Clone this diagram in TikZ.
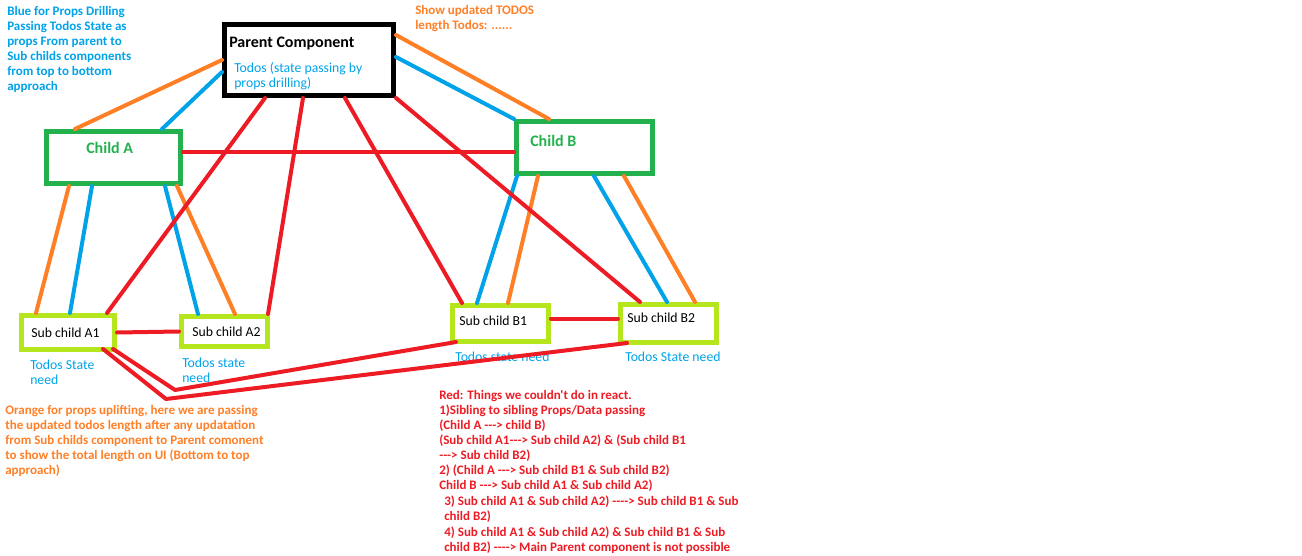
\documentclass[tikz,border=0pt]{standalone}
\usepackage{fontspec}
\setmainfont{Carlito}[Ligatures=TeXOff]
\usetikzlibrary{calc}

\newdimen\px \px=0.75pt
\newcommand{\notesize}{\fontsize{9.75pt}{11.25pt}\selectfont}
\newcommand{\regsize}{\fontsize{10.3pt}{11.25pt}\selectfont}
\newcommand{\headsize}{\fontsize{12pt}{14pt}\selectfont}

\definecolor{pblue}{HTML}{00A2E8}
\definecolor{porange}{HTML}{FF7F27}
\definecolor{pred}{HTML}{ED1C24}
\definecolor{pgreen}{HTML}{22B14C}
\definecolor{plime}{HTML}{B5E61D}

\begin{document}
\begin{tikzpicture}[
        x=\px, y=-\px, line cap=round,
        bwire/.style={draw=pblue, line width=4\px},
        owire/.style={draw=porange, line width=4\px},
        rwire/.style={draw=pred, line width=4\px, line join=round}
    ]

    \tikzstyle{parentbox} = [rectangle,draw=black,line width=5\px,inner sep=0pt,minimum width=169\px,minimum height=71\px]
    \tikzstyle{childbox} = [rectangle,draw=pgreen,line width=5\px,inner sep=0pt]
    \tikzstyle{subbox} = [rectangle,draw=plime,line width=5\px,inner sep=0pt]
    \tikzstyle{note} = [anchor=north west,align=left,inner sep=0pt,font=\regsize]

    \useasboundingbox (0,0) rectangle (1302,556);

    % boxes
    \node[parentbox] (parent) at (309,60) {};
    \node[childbox,minimum width=134\px,minimum height=52\px] (childA) at (113.5,157.5) {};
    \node[childbox,minimum width=136\px,minimum height=52\px] (childB) at (584.5,147.5) {};
    \node[subbox,minimum width=93\px,minimum height=34\px] (subA1) at (68,332.5) {};
    \node[subbox,minimum width=86\px,minimum height=30\px] (subA2) at (224.5,331.5) {};
    \node[subbox,minimum width=96\px,minimum height=36\px] (subB1) at (500.5,323.5) {};
    \node[subbox,minimum width=96\px,minimum height=38\px] (subB2) at (668.5,323.5) {};

    % box titles
    \node[note,font=\headsize\bfseries] (parenttitle) at (229,36.5) {Parent Component};
    \node[note,text=pblue] (parentstate) at (234,62) {Todos (state passing by\\props drilling)};
    \node[note,font=\headsize\bfseries,text=pgreen] (childAtitle) at (86,142) {Child A};
    \node[note,font=\headsize\bfseries,text=pgreen] (childBtitle) at (530,135) {Child B};
    \node[note] (subA1title) at (31,328) {Sub child A1};
    \node[note] (subA2title) at (192,327) {Sub child A2};
    \node[note] (subB1title) at (459,316) {Sub child B1};
    \node[note] (subB2title) at (627,313) {Sub child B2};

    % state labels
    \node[note,text=pblue] (needA1) at (30,360) {Todos State\\need};
    \node[note,text=pblue] (needA2) at (182,358) {Todos state\\need};
    \node[note,text=pblue] (needB1) at (455,352) {Todos state need};
    \node[note,text=pblue] (needB2) at (625,352) {Todos State need};

    % notes
    \node[note,font=\notesize\bfseries,text=pblue] (bluenote) at (7,6)
        {Blue for Props Drilling\\Passing Todos State as\\props From parent to\\Sub childs components\\from top to bottom\\approach};
    \node[note,font=\notesize\bfseries,text=porange] (countnote) at (415,5)
        {Show updated TODOS\\length Todos: ......};
    \node[note,font=\notesize\bfseries,text=porange] (orangenote) at (5,405)
        {Orange for props uplifting, here we are passing\\the updated todos length after any updatation\\from Sub childs component to Parent comonent\\to show the total length on UI (Bottom to top\\approach)};
    \node[note,font=\notesize\bfseries,text=pred] (rednote) at (439,390)
        {Red: Things we couldn't do in react.\\1)Sibling to sibling Props/Data passing\\(Child A ---> child B)\\(Sub child A1---> Sub child A2) \& (Sub child B1\\---> Sub child B2)\\2) (Child A ---> Sub child B1 \& Sub child B2)\\Child B ---> Sub child A1 \& Sub child A2)};
    \node[note,font=\notesize\bfseries,text=pred] (rednotemore) at (444,496)
        {3) Sub child A1 \& Sub child A2) ----> Sub child B1 \& Sub\\child B2)\\[1\px]4) Sub child A1 \& Sub child A2) \& Sub child B1 \& Sub\\child B2) ----> Main Parent component is not possible};

    % props drilling (blue) and uplifting (orange)
    \draw[owire] (parent.west) -- ([xshift=31\px]childA.north west);
    \draw[bwire] ([yshift=-12\px]parent.west) -- ([xshift=118\px]childA.north west);
    \draw[owire] ([yshift=25\px]parent.east) -- ([xshift=35\px]childB.north west);
    \draw[bwire] ([yshift=3\px]parent.east) -- (childB.north west);

    \draw[owire] ([xshift=25\px]childA.south west) -- ([xshift=17\px]subA1.north west);
    \draw[bwire] ([xshift=48\px]childA.south west) -- ([xshift=51\px]subA1.north west);
    \draw[bwire] ([xshift=-18\px]childA.south east) -- ([xshift=19\px]subA2.north west);
    \draw[owire] ([xshift=-6\px]childA.south east) -- ([xshift=56\px]subA2.north west);

    \draw[bwire] ([xshift=3\px]childB.south west) -- ([xshift=27\px]subB1.north west);
    \draw[owire] ([xshift=24\px]childB.south west) -- ([xshift=58\px]subB1.north west);
    \draw[bwire] ([xshift=80\px]childB.south west) -- ([xshift=49\px]subB2.north west);
    \draw[owire] ([xshift=110\px]childB.south west) -- ([xshift=77\px]subB2.north west);

    % not possible (red)
    \draw[rwire] ([xshift=43\px]parent.south west) -- ([xshift=-10\px]subA1.north east);
    \draw[rwire] ([xshift=81\px]parent.south west) -- ([xshift=-2\px]subA2.north east);
    \draw[rwire] ([xshift=-51\px]parent.south east) -- ([xshift=12\px]subB1.north west);
    \draw[rwire] (parent.south east) -- ([xshift=22\px]subB2.north west);
    \draw[rwire] ([yshift=5\px]childA.east) -- ([yshift=-5\px]childB.west);
    \draw[rwire] (subA1.east) -- (subA2.west);
    \draw[rwire] ([yshift=5\px]subB1.east) -- ([yshift=5\px]subB2.west);

    \coordinate (kinkB1) at (175,390);
    \coordinate (kinkB2) at (166,399);
    \draw[rwire] ([xshift=-4\px,yshift=3\px]subA1.south east) -- (kinkB1) -- ([xshift=6\px,yshift=2\px]subB1.south west);
    \draw[rwire] ([xshift=-14\px,yshift=3\px]subA1.south east) -- (kinkB2) -- ([xshift=9\px,yshift=2\px]subB2.south west);

\end{tikzpicture}
\end{document}
